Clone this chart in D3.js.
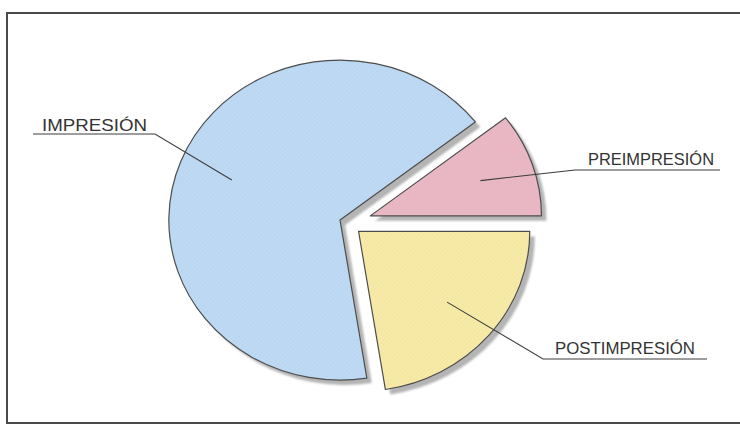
<!DOCTYPE html>
<html>
<head>
<meta charset="utf-8">
<script src="https://cdn.jsdelivr.net/npm/d3@7"></script>
<style>
  html, body { margin: 0; padding: 0; background: #ffffff; }
  svg { display: block; }
</style>
</head>
<body>
<div id="picture"></div>
<script>
// slice data, in drawing order (clockwise from the pink wedge)
var categories = ["PREIMPRESIÓN", "POSTIMPRESIÓN", "IMPRESIÓN"];
var values = [10.5, 22.5, 67];
var colors = ["#e9b8c4", "#f7eaa7", "#bdd9f3"];
var explode = [22, 13, 8];

function draw() {
    "use strict";

    var width = 740, height = 426;
    var radius = 160, stretch = 1.07;
    var cx = 348, cy = 223;

    var svg = d3.select("#picture")
        .append("svg")
        .attr("width", width)
        .attr("height", height);

    var defs = svg.append("defs");
    defs.append("filter")
        .attr("id", "soft")
        .append("feGaussianBlur")
        .attr("stdDeviation", 0.8);

    // fine diagonal hatch like the printed screen
    colors.forEach(function (c, i) {
        var p = defs.append("pattern")
            .attr("id", "hatch" + i)
            .attr("width", 3)
            .attr("height", 3)
            .attr("patternUnits", "userSpaceOnUse")
            .attr("patternTransform", "rotate(45)");
        p.append("rect").attr("width", 3).attr("height", 3).attr("fill", c);
        p.append("line")
            .attr("x1", 0).attr("y1", 0).attr("x2", 0).attr("y2", 3)
            .attr("stroke", d3.color(c).darker(0.4))
            .attr("stroke-width", 0.8)
            .attr("stroke-opacity", 0.35);
    });

    // frame
    svg.append("rect")
        .attr("x", 7)
        .attr("y", 13)
        .attr("width", 745)
        .attr("height", 410)
        .attr("fill", "none")
        .attr("stroke", "#4a4a4a")
        .attr("stroke-width", 2);

    var data = categories.map(function (c, i) {
        return { name: c, value: values[i], color: colors[i], explode: explode[i] };
    });

    var total = d3.sum(values);
    var start = Math.PI / 2 - 2 * Math.PI * values[0] / total;

    var pie = d3.pie()
        .sort(null)
        .value(function (d) { return d.value; })
        .startAngle(start)
        .endAngle(start + 2 * Math.PI);

    var arc = d3.arc().innerRadius(0).outerRadius(radius);
    var inner = d3.arc().innerRadius(radius * 0.68).outerRadius(radius * 0.68);

    var arcs = pie(data);

    var g = svg.append("g")
        .attr("transform", "translate(" + cx + "," + cy + ") scale(" + stretch + ",1)");

    function offset(d) {
        var a = (d.startAngle + d.endAngle) / 2;
        return [Math.sin(a) * d.data.explode, -Math.cos(a) * d.data.explode];
    }

    // shadows first
    g.selectAll("path.shadow")
        .data(arcs)
        .enter()
        .append("path")
        .attr("class", "shadow")
        .attr("d", arc)
        .attr("fill", "#b4b4b4")
        .attr("filter", "url(#soft)")
        .attr("transform", function (d) {
            var o = offset(d);
            return "translate(" + (o[0] + 5 / stretch) + "," + (o[1] + 5) + ")";
        });

    g.selectAll("path.slice")
        .data(arcs)
        .enter()
        .append("path")
        .attr("class", "slice")
        .attr("d", arc)
        .attr("fill", function (d, i) { return "url(#hatch" + i + ")"; })
        .attr("stroke", "#4d4d4d")
        .attr("stroke-width", 1.2)
        .attr("vector-effect", "non-scaling-stroke")
        .attr("stroke-linejoin", "round")
        .attr("transform", function (d) {
            var o = offset(d);
            return "translate(" + o[0] + "," + o[1] + ")";
        });

    // label placement: bend point of leader, underline end, text box
    var labels = [
        { bx: 575, by: 170, ux: 720, tx: 588, ty: 165, tw: 126 },
        { bx: 543, by: 359, ux: 707, tx: 555, ty: 354, tw: 140 },
        { bx: 155, by: 134, ux: 33,  tx: 42,  ty: 131, tw: 105 }
    ];

    arcs.forEach(function (d, i) {
        var o = offset(d);
        var c = inner.centroid(d);
        var px = cx + (c[0] + o[0]) * stretch;
        var py = cy + c[1] + o[1];
        var L = labels[i];

        svg.append("polyline")
            .attr("points", [[px, py], [L.bx, L.by], [L.ux, L.by]].map(function (p) { return p.join(","); }).join(" "))
            .attr("fill", "none")
            .attr("stroke", "#3c3c3c")
            .attr("stroke-width", 1.1);

        svg.append("text")
            .attr("x", L.tx)
            .attr("y", L.ty)
            .attr("textLength", L.tw)
            .attr("lengthAdjust", "spacingAndGlyphs")
            .attr("font-family", "'Liberation Sans', Arial, sans-serif")
            .attr("font-size", 17)
            .attr("fill", "#333333")
            .text(d.data.name);
    });
}

draw();
</script>
</body>
</html>
